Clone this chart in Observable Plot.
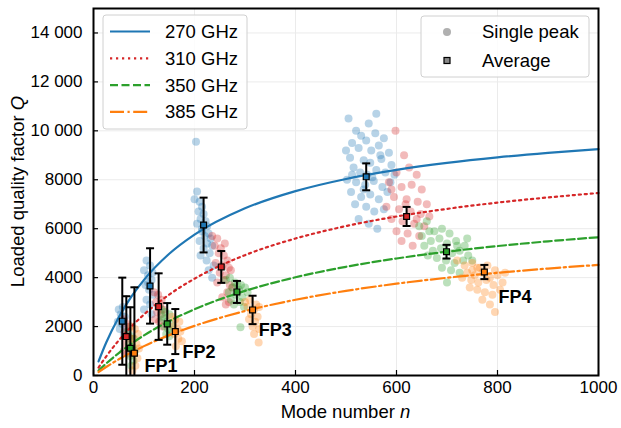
<!DOCTYPE html>
<html><head><meta charset="utf-8">
<script src="https://cdn.jsdelivr.net/npm/d3@7"></script>
<script src="https://cdn.jsdelivr.net/npm/@observablehq/plot@0.6"></script>
<style>body{margin:0;background:#fff;} #chart{width:621px;height:428px;}</style>
</head><body><div id="chart"></div>
<script>
// ---------- data ----------
const series = ["270 GHz", "310 GHz", "350 GHz", "385 GHz"];
const colors = ["#1f77b4", "#d62728", "#2ca02c", "#ff7f0e"];
const dashes = [null, "2.2,3.8", "8,3.5", "14,3.5,2.2,3.5"];

// fitted curves
const curveN = [10, 25, 50, 75, 100, 150, 200, 300, 400, 500, 600, 700, 800, 900, 1000];
const curve270 = [577, 1337, 2382, 3221, 3910, 4974, 5757, 6832, 7536, 8033, 8402, 8687, 8914, 9099, 9253];
const curve310 = [326, 775, 1433, 2000, 2493, 3309, 3957, 4919, 5599, 6107, 6499, 6811, 7066, 7278, 7457];
const curve350 = [203, 487, 917, 1299, 1640, 2225, 2707, 3458, 4014, 4443, 4783, 5060, 5290, 5484, 5650];
const curve385 = [144, 348, 662, 944, 1201, 1650, 2029, 2634, 3095, 3459, 3752, 3995, 4198, 4371, 4520];

// single peaks [n, Q]
const peaks270 = [
  [50,2700],[58,2800],[54,2500],[62,2400],[48,2200],[57,2100],[64,2000],[52,1900],[60,1700],[66,1800],[55,2300],
  [105,4700],[112,4500],[100,4300],[108,4100],[115,3900],[103,3700],[110,3500],[118,3300],[105,3100],[112,2900],[100,2700],[115,2500],[108,3800],[117,4200],
  [203,9550],[205,7520],[200,7200],[210,7100],[215,6900],[208,6700],[218,6600],[212,6400],[222,6300],[205,6200],[225,6100],[215,5900],[228,5800],[220,5700],[232,5600],[210,5500],[225,5400],[235,5300],[218,5200],[230,5000],[212,4900],[224,4700],[238,4500],[228,4300],[235,4000],[215,6000],
  [505,10500],[520,10000],[560,10700],[545,10300],[530,9800],[512,9500],[540,9600],[558,9900],[575,9700],[500,9200],[525,9300],[550,9200],[565,9400],[585,9100],[508,8900],[535,8800],[548,8700],[570,8850],[590,8600],[515,8500],[528,8300],[542,8200],[560,8400],[578,8300],[502,8000],[520,7900],[538,7800],[555,7950],[572,7700],[588,7900],[510,7500],[530,7300],[548,7400],[565,7200],[582,7500],[518,7000],[540,6900],[556,6700],[575,6800],[525,6400],[545,6200],[562,6000],[535,7600],[552,8100],[568,9000],[512,8200],[596,8200]
];
const peaks310 = [
  [60,2300],[66,2100],[72,2000],[62,1800],[69,1600],[74,1500],[64,1300],[71,1100],[67,900],[60,1000],
  [120,3400],[128,3300],[135,3100],[124,3000],[132,2900],[138,2700],[126,2600],[134,2500],[122,2300],[130,2200],[137,2000],[128,2800],
  [235,5700],[245,5600],[240,5300],[252,5200],[260,5400],[248,5000],[258,4900],[265,4700],[242,4600],[255,4500],[268,4400],[250,4200],[262,4100],[272,4300],[258,3900],[270,3700],[245,3800],[265,3400],[275,3600],[255,3200],[268,3000],[262,2900],
  [598,10000],[615,9000],[625,8500],[600,8300],[640,8200],[585,7900],[610,7700],[630,7800],[650,7600],[595,7300],[620,7200],[642,7100],[660,7000],[580,6900],[605,6800],[628,6700],[648,6600],[590,6400],[612,6300],[635,6200],[655,6100],[600,5900],[622,5800],[645,5700],[610,5500],[632,5300],[665,6500],[590,7600],[618,7000],[640,6400]
];
const peaks350 = [
  [68,1800],[74,1600],[80,1500],[70,1300],[77,1200],[82,1000],[72,800],[79,600],[75,400],
  [135,2700],[142,2600],[150,2500],[138,2300],[146,2200],[155,2100],[140,2000],[148,1900],[153,1800],[144,1700],[150,1600],[136,2400],
  [262,3900],[270,4000],[280,3800],[292,3700],[275,3600],[288,3500],[300,3600],[268,3400],[282,3300],[295,3200],[305,3400],[272,3100],[290,3000],[278,2900],[298,2800],[285,3700],[291,1970],
  [645,6100],[660,6300],[675,5900],[690,6000],[705,5800],[650,5700],[668,5500],[685,5600],[700,5400],[718,5500],[735,5300],[655,5300],[672,5100],[688,5200],[710,5000],[725,5100],[742,4900],[662,4900],[680,4800],[698,4700],[715,4600],[732,4700],[690,4400],[708,4300],[725,4200],[700,3800],[740,5600],[665,5900],[720,5300],[750,4700]
];
const peaks385 = [
  [75,2000],[82,1900],[88,1700],[78,1500],[85,1300],[90,1100],[80,900],[87,700],[83,400],[77,200],
  [155,2400],[162,2300],[170,2200],[158,2000],[166,1900],[172,1800],[160,1700],[168,1500],[175,1400],[163,1200],
  [300,3000],[310,3100],[322,2900],[305,2800],[318,2700],[328,2800],[312,2500],[325,2400],[308,2300],[320,2200],[315,2000],[328,1900],[318,1700],[327,1350],
  [720,4700],[735,4500],[750,4600],[765,4400],[780,4500],[795,4300],[740,4200],[755,4100],[770,4200],[785,4000],[800,4100],[730,4000],[748,3900],[762,3800],[778,3900],[792,3700],[810,3800],[745,3600],[760,3500],[775,3400],[790,3300],[805,3500],[770,3100],[785,2900],[795,2600],[760,4400],[815,4200],[750,4300]
];

// averages with error bars
const avgN270 = [57, 112, 218, 540],  avgQ270 = [2220, 3660, 6150, 8120], avgE270 = [1780, 1540, 1120, 550];
const avgN310 = [65, 129, 253, 620],  avgQ310 = [1590, 2816, 4437, 6500], avgE310 = [1650, 1360, 650, 390];
const avgN350 = [73, 146, 284, 699],  avgQ350 = [1115, 2109, 3415, 5060], avgE350 = [1674, 850, 450, 280];
const avgN385 = [81, 162, 315, 774],  avgQ385 = [912, 1796, 2680, 4230], avgE385 = [2693, 920, 580, 290];

const fpLabels = ["FP1", "FP2", "FP3", "FP4"];
const fpN = [101, 176, 327, 802];
const fpQ = [370, 940, 1840, 3180];

const xTicks = [0, 200, 400, 600, 800, 1000];
const yTicks = [0, 2000, 4000, 6000, 8000, 10000, 12000, 14000];

// ---------- build ----------
const peaks = [peaks270, peaks310, peaks350, peaks385];
const curves = [curve270, curve310, curve350, curve385];
const avgs = [[avgN270, avgQ270, avgE270], [avgN310, avgQ310, avgE310], [avgN350, avgQ350, avgE350], [avgN385, avgQ385, avgE385]];

const W = 621, H = 428, ML = 93, MR = 23, MT = 8, MB = 53;
const FW = W - ML - MR, FH = H - MT - MB;

const capSymbol = {draw(ctx, size) { const w = Math.sqrt(size / Math.PI); ctx.moveTo(-w, 0); ctx.lineTo(w, 0); }};

const marks = [
  Plot.gridX(xTicks, {stroke: "#ebebeb", strokeOpacity: 1, strokeWidth: 1}),
  Plot.gridY(yTicks, {stroke: "#ebebeb", strokeOpacity: 1, strokeWidth: 1}),
];
peaks.forEach((p, i) => {
  marks.push(Plot.dot(p, {x: d => d[0], y: d => d[1], r: 4, fill: colors[i], fillOpacity: 0.32, stroke: null}));
});
curves.forEach((c, i) => {
  const data = curveN.map((n, j) => ({n, q: c[j]}));
  marks.push(Plot.line(data, {x: "n", y: "q", stroke: colors[i], strokeWidth: 2.2, strokeDasharray: dashes[i] || undefined, curve: "monotone-x"}));
});
avgs.forEach(([N, Q, E], i) => {
  const data = N.map((n, j) => ({n, q: Q[j], e: E[j]}));
  marks.push(Plot.ruleX(data, {x: "n", y1: d => Math.max(0, d.q - d.e), y2: d => d.q + d.e, stroke: "black", strokeWidth: 2}));
  marks.push(Plot.dot(data, {x: "n", y: d => d.q + d.e, symbol: capSymbol, r: 4, stroke: "black", strokeWidth: 2, fill: "none"}));
  marks.push(Plot.dot(data.filter(d => d.q - d.e > 0), {x: "n", y: d => d.q - d.e, symbol: capSymbol, r: 4, stroke: "black", strokeWidth: 2, fill: "none"}));
  marks.push(Plot.dot(data, {x: "n", y: "q", symbol: "square", r: 3.3, fill: colors[i], stroke: "black", strokeWidth: 1.2}));
});
marks.push(Plot.text(fpLabels.map((t, i) => ({t, n: fpN[i], q: fpQ[i]})), {x: "n", y: "q", text: "t", textAnchor: "start", fontWeight: "bold", fontSize: 18, fill: "black"}));
marks.push(Plot.tickX(xTicks, {x: d => d, insetTop: FH - 5, stroke: "black", strokeWidth: 1.2}));
marks.push(Plot.tickY(yTicks, {y: d => d, insetRight: FW - 5, stroke: "black", strokeWidth: 1.2}));
marks.push(Plot.frame({stroke: "black", strokeWidth: 2}));

const fmtY = d => d >= 10000 ? d3.format(",")(d).replace(",", " ") : String(d);

const chart = Plot.plot({
  width: W, height: H,
  marginLeft: ML, marginRight: MR, marginTop: MT, marginBottom: MB,
  style: {fontFamily: "'Liberation Sans', Arial, sans-serif", fontSize: "17px", color: "black", background: "white", overflow: "visible"},
  x: {domain: [0, 1000], ticks: xTicks, tickSize: 0, tickPadding: 5, tickFormat: d => String(d), label: null},
  y: {domain: [0, 15000], ticks: yTicks, tickSize: 0, tickPadding: 11, tickFormat: fmtY, label: null},
  marks
});
document.getElementById("chart").appendChild(chart);

// ---------- axis titles & legends ----------
const svg = d3.select(chart);
const FONT = "'Liberation Sans', Arial, sans-serif";
const lbl = svg.append("g").attr("font-family", FONT).attr("font-size", 18.5).attr("fill", "black");
const yl = lbl.append("text").attr("transform", `translate(24,${MT + FH / 2}) rotate(-90)`).attr("text-anchor", "middle");
yl.append("tspan").text("Loaded quality factor ");
yl.append("tspan").attr("font-style", "italic").text("Q");
const xl = lbl.append("text").attr("x", ML + FW / 2).attr("y", 418).attr("text-anchor", "middle");
xl.append("tspan").text("Mode number ");
xl.append("tspan").attr("font-style", "italic").text("n");

// legend 1
const lg1 = svg.append("g").attr("font-family", FONT).attr("font-size", 18.5).attr("text-anchor", "start");
lg1.append("rect").attr("x", 103).attr("y", 15).attr("width", 144).attr("height", 114).attr("rx", 3)
  .attr("fill", "white").attr("fill-opacity", 0.85).attr("stroke", "#d0d0d0");
series.forEach((s, i) => {
  const y = 31.5 + i * 26.8;
  lg1.append("line").attr("x1", 110).attr("x2", 150).attr("y1", y).attr("y2", y)
    .attr("stroke", colors[i]).attr("stroke-width", 2.2).attr("stroke-dasharray", dashes[i]);
  lg1.append("text").attr("x", 165).attr("y", y).attr("dy", "0.35em").attr("fill", "black").attr("text-anchor", "start").text(s);
});
// legend 2
const lg2 = svg.append("g").attr("font-family", FONT).attr("font-size", 18.5).attr("text-anchor", "start");
lg2.append("rect").attr("x", 421).attr("y", 16).attr("width", 168).attr("height", 61).attr("rx", 3)
  .attr("fill", "white").attr("fill-opacity", 0.85).attr("stroke", "#d0d0d0");
lg2.append("circle").attr("cx", 447).attr("cy", 32).attr("r", 4).attr("fill", "#b0b0b0");
lg2.append("rect").attr("x", 444).attr("y", 57.5).attr("width", 6).attr("height", 6).attr("fill", "#888").attr("stroke", "black").attr("stroke-width", 1.2);
lg2.append("text").attr("x", 482).attr("y", 32).attr("dy", "0.35em").attr("fill", "black").attr("text-anchor", "start").text("Single peak");
lg2.append("text").attr("x", 482).attr("y", 60.5).attr("dy", "0.35em").attr("fill", "black").attr("text-anchor", "start").text("Average");
</script></body></html>
